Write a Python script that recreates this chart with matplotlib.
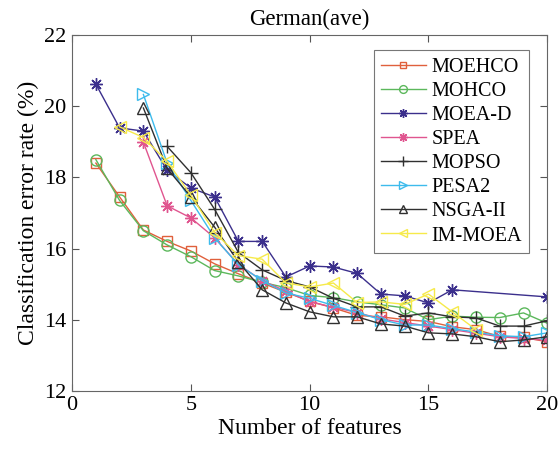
import numpy as np
import matplotlib.pyplot as plt

plt.rcParams.update({
    "font.family": "serif",
    "font.serif": ["Liberation Serif", "DejaVu Serif"],
    "mathtext.fontset": "stix",
    "xtick.direction": "in", "ytick.direction": "in",
    "xtick.top": True, "ytick.right": True,
})

# ---- data ------------------------------------------------------------------
x_full = list(range(1, 21))
moehco = [18.4, 17.45, 16.52, 16.2, 15.93, 15.57, 15.29, 15.03, 14.77, 14.52,
          14.33, 14.12, 14.08, 14.0, 13.95, 13.8, 13.72, 13.53, 13.5, 13.38]
mohco = [18.5, 17.35, 16.5, 16.1, 15.77, 15.38, 15.23, 15.05, 14.9, 14.68,
         14.62, 14.5, 14.42, 14.33, 14.0, 14.1, 14.07, 14.06, 14.19, 13.9]

x_moead = list(range(1, 17)) + [20]
moead = [20.62, 19.39, 19.3, 18.2, 17.7, 17.45, 16.2, 16.2, 15.2, 15.51,
         15.48, 15.3, 14.72, 14.67, 14.47, 14.84, 14.64]

x_spea = list(range(3, 21))
spea = [18.99, 17.2, 16.86, 16.3, 15.55, 15.1, 14.8, 14.5, 14.35, 14.2,
        14.02, 13.92, 13.82, 13.72, 13.62, 13.52, 13.47, 13.42]

x_mopso = list(range(4, 21))
mopso = [18.87, 18.13, 17.1, 15.89, 15.4, 15.1, 14.92, 14.6, 14.36, 14.36,
         14.1, 14.19, 14.08, 14.05, 13.82, 13.82, 13.97]

x_pesa2 = list(range(3, 21))
pesa2 = [20.33, 18.4, 17.35, 16.3, 15.54, 15.1, 14.75, 14.6, 14.4, 14.2,
         14.0, 13.85, 13.85, 13.75, 13.65, 13.55, 13.52, 13.63]

x_nsga = list(range(3, 21))
nsga = [19.95, 18.25, 17.45, 16.6, 15.62, 14.84, 14.47, 14.22, 14.08, 14.08,
        13.88, 13.82, 13.63, 13.6, 13.52, 13.38, 13.43, 13.52]

x_im = list(range(2, 18))
immoea = [19.42, 19.12, 18.45, 17.5, 16.45, 15.8, 15.7, 15.03, 14.92, 15.03,
          14.48, 14.5, 14.43, 14.72, 14.22, 13.72]

ASTER = (8, 2, 0)   # MATLAB-style '*' (eight arms)
series = [
    ("MOEHCO", x_full, moehco, "#e0603c", "s", 7),
    ("MOHCO", x_full, mohco, "#5cb85c", "o", 8),
    ("MOEA-D", x_moead, moead, "#3b2f8c", ASTER, 9),
    ("SPEA", x_spea, spea, "#e0558f", ASTER, 9),
    ("MOPSO", x_mopso, mopso, "#303030", "+", 10),
    ("PESA2", x_pesa2, pesa2, "#3dbbec", ">", 8),
    ("NSGA-II", x_nsga, nsga, "#303030", "^", 9),
    ("IM-MOEA", x_im, immoea, "#f6ea4a", "<", 8),
]

fig = plt.figure(figsize=(5.59, 4.55), dpi=100)
ax = fig.add_axes([0.129, 0.141, 0.850, 0.782])

for name, xs, ys, col, mk, ms in series:
    ax.plot(xs, ys, color=col, lw=1.0, marker=mk, ms=ms,
            mfc="none", mec=col, mew=1.0, label=name)

ax.set_xlim(0, 20)
ax.set_ylim(12, 22)
ax.set_xticks([0, 5, 10, 15, 20])
ax.set_yticks([12, 14, 16, 18, 20, 22])
ax.tick_params(labelsize=16, length=5, color="#555555", pad=4)
for sp in ax.spines.values():
    sp.set_color("#666666")
    sp.set_linewidth(0.8)

ax.set_xlabel("Number of features", fontsize=17, labelpad=2)
ax.set_ylabel("Classification error rate (%)", fontsize=17, labelpad=4)
ax.set_title("German(ave)", fontsize=16.5, pad=7)

leg = ax.legend(loc="upper right", fontsize=14.5, frameon=True, fancybox=False,
                edgecolor="#555555", handlelength=2.2, handletextpad=0.3,
                borderpad=0.35, labelspacing=0.25, markerscale=0.7,
                bbox_to_anchor=(0.983, 0.985))
leg.get_frame().set_linewidth(0.8)

fig.savefig("out.png", dpi=100)
